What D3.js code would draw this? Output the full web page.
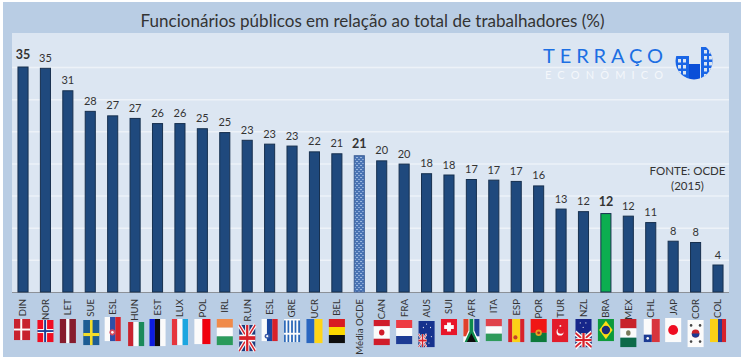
<!DOCTYPE html>
<html>
<head>
<meta charset="utf-8">
<style>
  html, body { margin: 0; padding: 0; background: #fff; }
  text { font-family: Lato, "Open Sans", sans-serif; fill: #333; }
</style>
<script src="https://cdn.jsdelivr.net/npm/d3@7"></script>
</head>
<body>
<svg id="chart" width="744" height="362"></svg>
<script>
const titleText = "Funcionários públicos em relação ao total de trabalhadores (%)";
const sourceLines = ["FONTE: OCDE", "(2015)"];
const countries = ["DIN", "NOR", "LET", "SUE", "ESL", "HUN", "EST", "LUX", "POL", "IRL", "R.UN", "ESL ", "GRE", "UCR", "BEL", "Média OCDE",
    "CAN", "FRA", "AUS", "SUI", "AFR", "ITA", "ESP", "POR", "TUR", "NZL", "BRA", "MEX", "CHL", "JAP", "COR", "COL"];
const values = [35.0, 34.8, 31.3, 28.1, 27.4, 27.0, 26.2, 26.2, 25.4, 24.8, 23.6, 23.0, 22.7, 21.8, 21.5, 21.2,
    20.4, 19.9, 18.4, 18.2, 17.5, 17.4, 17.2, 16.5, 12.9, 12.5, 12.2, 11.8, 10.8, 7.9, 7.7, 4.2];
const valueLabels = ["35", "35", "31", "28", "27", "27", "26", "26", "25", "25", "23", "23", "23", "22", "21", "21",
    "20", "20", "18", "18", "17", "17", "17", "16", "13", "12", "12", "12", "11", "8", "8", "4"];
const gridTicks = [5, 10, 15, 20, 25, 30, 35];
const boldBars = ["DIN", "Média OCDE", "BRA"];

const svg = d3.select("#chart");
const defs = svg.append("defs");

// background panels
svg.append("rect").attr("x", 3).attr("y", 2).attr("width", 738).attr("height", 355).attr("fill", "#b9cde4");
svg.append("rect").attr("x", 12).attr("y", 33).attr("width", 717).attr("height", 259).attr("fill", "#dce6f2");

const x = d3.scaleBand().domain(countries).range([11.8, 729.2]).paddingInner(0.55).paddingOuter(0.275);
const y = d3.scaleLinear().domain([0, 35]).range([292, 67]);

// speckled fill of the OECD average bar
const speck = defs.append("pattern").attr("id", "speck").attr("width", 4).attr("height", 4).attr("patternUnits", "userSpaceOnUse");
speck.append("rect").attr("width", 4).attr("height", 4).attr("fill", "#4a74b4");
speck.append("rect").attr("x", 0).attr("y", 1).attr("width", 2).attr("height", 1).attr("fill", "#9db8de");
speck.append("rect").attr("x", 2).attr("y", 3).attr("width", 2).attr("height", 1).attr("fill", "#89a8d6");

// gridlines
const grid = svg.append("g").attr("transform", "translate(12,0)")
    .call(d3.axisLeft(y).tickValues(gridTicks).tickSize(-717).tickFormat(""));
grid.select(".domain").remove();
grid.selectAll("line").attr("stroke", "#edf2f8").attr("stroke-width", 1.5);

// x axis
const xAxis = svg.append("g").attr("transform", "translate(0,292)")
    .call(d3.axisBottom(x).tickSize(0).tickFormat(d => d.trim()));
xAxis.select(".domain").attr("stroke", "#8c9198").attr("stroke-width", 1).attr("d", "M12,0.5H729");
xAxis.selectAll("text")
    .attr("transform", "rotate(-90)")
    .attr("x", -7).attr("y", 0).attr("dy", "0.35em")
    .attr("text-anchor", "end")
    .style("font-size", "9.6px")
    .style("font-family", "Lato, sans-serif");

// bars
svg.append("g").selectAll("rect")
    .data(countries)
    .enter().append("rect")
    .attr("x", d => x(d))
    .attr("y", (d, i) => y(values[i]))
    .attr("width", x.bandwidth())
    .attr("height", (d, i) => y(0) - y(values[i]))
    .attr("fill", d => d === "BRA" ? "#0cae50" : d === "Média OCDE" ? "url(#speck)" : "#1f497d")
    .attr("stroke", d => d === "Média OCDE" ? "#3d5f96" : "#17304f")
    .attr("stroke-width", 1);

// value labels
svg.append("g").selectAll("text")
    .data(countries)
    .enter().append("text")
    .attr("x", d => x(d) + x.bandwidth() / 2)
    .attr("y", (d, i) => y(values[i]) - (boldBars.includes(d) ? 8 : 6.5))
    .attr("text-anchor", "middle")
    .style("font-size", d => boldBars.includes(d) ? "12.5px" : "11px")
    .style("font-weight", d => boldBars.includes(d) ? "700" : "400")
    .text((d, i) => valueLabels[i]);

// title and source
svg.append("text").attr("x", 372.5).attr("y", 27).attr("text-anchor", "middle")
    .style("font-size", "17.05px").text(titleText);
svg.append("g").selectAll("text").data(sourceLines).enter().append("text")
    .attr("x", 687.5).attr("y", (d, i) => 175 + i * 15).attr("text-anchor", "middle")
    .style("font-size", "11.5px").text(d => d);

// logo
svg.append("text").attr("x", 543).attr("y", 63).attr("textLength", 120).attr("lengthAdjust", "spacing")
    .style("font-size", "20px").style("font-weight", "400").style("fill", "#1c6fe3").text("TERRAÇO");
svg.append("text").attr("x", 545).attr("y", 79).attr("textLength", 118).attr("lengthAdjust", "spacing")
    .style("font-size", "11px").style("font-weight", "400").style("fill", "#f4f7fb").text("ECONÔMICO");
defs.append("clipPath").attr("id", "logoClip").append("circle").attr("cx", 694).attr("cy", 61).attr("r", 18.5);
const logo = svg.append("g").attr("clip-path", "url(#logoClip)");
[[675, 56, 14, 24], [689, 64, 11, 16], [701, 47, 12, 33]].forEach((b, i) => {
    logo.append("rect").attr("x", b[0]).attr("y", b[1]).attr("width", b[2]).attr("height", b[3])
        .attr("fill", i === 1 ? "#0a4fd8" : "#1a66e6");
    if (i === 1) return;
    d3.range(b[1] + 3, b[1] + b[3] - 2, 6).forEach(wy => {
        d3.range(b[0] + 3, b[0] + b[2] - 2, 5).forEach(wx => {
            logo.append("rect").attr("x", wx).attr("y", wy).attr("width", 3).attr("height", 3.5).attr("fill", "#dce6f2");
        });
    });
});

// flags are painted in a 100x100 box and stretched
const RED = "#d8202c", BLUE = "#1c3f94", WHITE = "#fbfbfb", GREEN = "#0d8a4a", YEL = "#fcd116";
function stripes(g, dir, cols, sizes) {
    let at = 0;
    cols.forEach((c, i) => {
        const s = sizes ? sizes[i] : 100 / cols.length;
        if (dir === "v") box(g, at, 0, s, 100, c);
        else box(g, 0, at, 100, s, c);
        at += s;
    });
}
function box(g, bx, by, w, h, c) {
    g.append("rect").attr("x", bx).attr("y", by).attr("width", w + 0.3).attr("height", h + 0.3).attr("fill", c);
}
function dot(g, cx, cy, rx, ry, c) {
    g.append("ellipse").attr("cx", cx).attr("cy", cy).attr("rx", rx).attr("ry", ry).attr("fill", c);
}
function cross(g, cx, cy, tx, ty, c) {
    box(g, cx - tx / 2, 0, tx, 100, c);
    box(g, 0, cy - ty / 2, 100, ty, c);
}
function jack(g, bx, by, w, h) {
    box(g, bx, by, w, h, "#1f3a7d");
    const ln = (a, b, c, d, col, sw) => g.append("line").attr("x1", a).attr("y1", b).attr("x2", c).attr("y2", d)
        .attr("stroke", col).attr("stroke-width", sw);
    ln(bx, by, bx + w, by + h, WHITE, w * 0.2); ln(bx + w, by, bx, by + h, WHITE, w * 0.2);
    ln(bx, by, bx + w, by + h, RED, w * 0.07); ln(bx + w, by, bx, by + h, RED, w * 0.07);
    box(g, bx + w * 0.37, by, w * 0.26, h, WHITE); box(g, bx, by + h * 0.37, w, h * 0.26, WHITE);
    box(g, bx + w * 0.43, by, w * 0.14, h, RED); box(g, bx, by + h * 0.43, w, h * 0.14, RED);
}
function stars(g, pts, c) {
    pts.forEach(p => dot(g, p[0], p[1], 3.5, 2.5, c));
}
const painters = {
    DIN: g => { box(g, 0, 0, 100, 100, "#c8202f"); cross(g, 45, 50, 12, 9, WHITE); },
    NOR: g => { box(g, 0, 0, 100, 100, "#f01020"); cross(g, 48, 50, 24, 18, WHITE); cross(g, 48, 50, 12, 8, BLUE); },
    LET: g => stripes(g, "v", ["#861b2d", WHITE, "#861b2d"], [40, 20, 40]),
    SUE: g => { box(g, 0, 0, 100, 100, "#1d5b94"); cross(g, 50, 58, 16, 12, "#f2dc2a"); },
    ESL: g => { stripes(g, "v", [WHITE, "#2d50a8", RED]); dot(g, 48, 64, 18, 13, "#d8485c"); dot(g, 48, 64, 8, 6, WHITE); },
    HUN: g => stripes(g, "v", ["#c8242f", WHITE, "#1a8a5a"]),
    EST: g => stripes(g, "v", ["#0a1ee0", "#0a0a0a", WHITE]),
    LUX: g => stripes(g, "v", ["#e6343c", WHITE, "#1ea6e0"]),
    POL: g => stripes(g, "v", [WHITE, "#f00010"], [50, 50]),
    IRL: g => stripes(g, "h", ["#f08a4a", WHITE, "#2c9a5a"]),
    "R.UN": g => jack(g, 0, 0, 100, 100),
    "ESL ": g => { stripes(g, "v", [WHITE, "#1f4aa0", "#d8202c"]); dot(g, 35, 78, 16, 11, "#3a5aa8"); dot(g, 35, 78, 7, 5, WHITE); },
    GRE: g => {
        stripes(g, "v", d3.range(9).map(i => i % 2 ? WHITE : "#2a68b8"));
        box(g, 0, 60, 100, 8, WHITE); box(g, 0, 0, 100, 6, WHITE);
    },
    UCR: g => stripes(g, "v", ["#2a66c0", "#ffd514"]),
    BEL: g => stripes(g, "h", ["#d81e20", "#fbd800", "#0a0a0a"]),
    CAN: g => { stripes(g, "h", ["#d01c2c", WHITE, "#d01c2c"], [25, 50, 25]); dot(g, 50, 50, 17, 12, "#d01c2c"); },
    FRA: g => stripes(g, "h", ["#ee3a42", WHITE, "#1f3a94"]),
    AUS: g => { box(g, 0, 0, 100, 100, "#16308e"); jack(g, 0, 50, 50, 50); stars(g, [[50, 12], [75, 25], [30, 25], [80, 60], [65, 85]], WHITE); },
    SUI: g => { box(g, 0, 0, 100, 100, "#e8182c"); box(g, 38, 22, 24, 56, WHITE); box(g, 20, 38, 60, 24, WHITE); },
    AFR: g => {
        box(g, 0, 0, 100, 100, WHITE); box(g, 0, 0, 50, 75, "#e0402c"); box(g, 50, 0, 50, 75, "#1a3f94");
        g.append("path").attr("d", "M32,0L68,0L68,50L100,100L0,100L32,50Z").attr("fill", WHITE);
        g.append("path").attr("d", "M38,0L62,0L62,54L92,100L8,100L38,54Z").attr("fill", "#0c8a4c");
        g.append("path").attr("d", "M22,100L50,62L78,100Z").attr("fill", "#0a0a0a");
    },
    ITA: g => stripes(g, "h", ["#e0424c", WHITE, "#2e9a5a"]),
    ESP: g => { stripes(g, "v", ["#d8202c", "#fcd116", "#d8202c"], [25, 50, 25]); dot(g, 45, 80, 13, 9, "#c8402c"); },
    POR: g => { stripes(g, "h", ["#f01414", "#0a7a3a"], [60, 40]); dot(g, 50, 60, 20, 14, "#e8a020"); dot(g, 50, 60, 9, 6, "#b03020"); },
    TUR: g => { box(g, 0, 0, 100, 100, "#e31a2c"); dot(g, 50, 56, 22, 16, WHITE); dot(g, 55, 50, 20, 14, "#e31a2c"); dot(g, 52, 30, 6, 4, WHITE); },
    NZL: g => { box(g, 0, 0, 100, 100, "#16278a"); jack(g, 0, 50, 100, 50); stars(g, [[30, 14], [65, 14], [48, 30]], "#f0f0f0"); },
    BRA: g => {
        box(g, 0, 0, 100, 100, "#0e9a3a");
        g.append("path").attr("d", "M50,8L92,50L50,92L8,50Z").attr("fill", "#fcdc14");
        dot(g, 50, 50, 26, 19, "#1a2a7a");
    },
    MEX: g => { stripes(g, "h", ["#c8202c", WHITE, "#0a6a4a"]); dot(g, 50, 50, 14, 10, "#7a7a5a"); },
    CHL: g => { box(g, 0, 0, 100, 100, WHITE); box(g, 50, 0, 50, 100, "#d8343c"); box(g, 0, 68, 50, 32, "#1a3a94"); dot(g, 25, 84, 8, 6, WHITE); },
    JAP: g => { box(g, 0, 0, 100, 100, WHITE); dot(g, 50, 50, 31, 21, "#ee1020"); },
    COR: g => {
        box(g, 0, 0, 100, 100, WHITE); dot(g, 50, 50, 24, 15, "#c8202c");
        g.append("path").attr("d", "M26,50A24,15 0 0 0 74,50Z").attr("fill", "#1a3a94");
        [[22, 20], [78, 20], [22, 80], [78, 80]].forEach(p => dot(g, p[0], p[1], 8, 5, "#444"));
    },
    COL: g => stripes(g, "v", ["#fcd116", "#2a3f94", "#d8202c"], [50, 25, 25])
};
// top and height of each flag as pasted on the picture
const flagLayout = {
    DIN: [319, 21, -1], NOR: [320, 22, 0], LET: [319, 24, 0], SUE: [320, 25, 1], ESL: [317, 24, 0], HUN: [322, 24, 1],
    EST: [319, 27, 0], LUX: [319, 26, 0], POL: [319, 25, 0], IRL: [319, 26, 0], "R.UN": [325, 26, 0], "ESL ": [319, 22, 0],
    GRE: [319, 23, 0], UCR: [319, 24, 0], BEL: [319, 24, 0], CAN: [320, 25, 0], FRA: [320, 24, 0], AUS: [321, 26, 0],
    SUI: [319, 16, 0], AFR: [319, 23, 0], ITA: [319, 22, 0], ESP: [319, 23, 0], POR: [319, 23, 0], TUR: [319, 23, -1],
    NZL: [319, 28, 0], BRA: [319, 22, 0], MEX: [319, 28, 0], CHL: [319, 23, 1], JAP: [318, 24, 0], COR: [320, 27, 0], COL: [319, 23, 0]
};
const blur = defs.append("filter").attr("id", "soft");
blur.append("feGaussianBlur").attr("stdDeviation", 0.35);
const flags = svg.append("g").attr("filter", "url(#soft)");
countries.filter(c => painters[c]).forEach(c => {
    const f = flagLayout[c];
    const cx = x(c) + x.bandwidth() / 2 + f[2];
    const g = flags.append("g")
        .attr("transform", `translate(${cx - 8},${f[0]}) scale(0.16,${f[1] / 100})`);
    painters[c](g);
});
</script>
</body>
</html>
